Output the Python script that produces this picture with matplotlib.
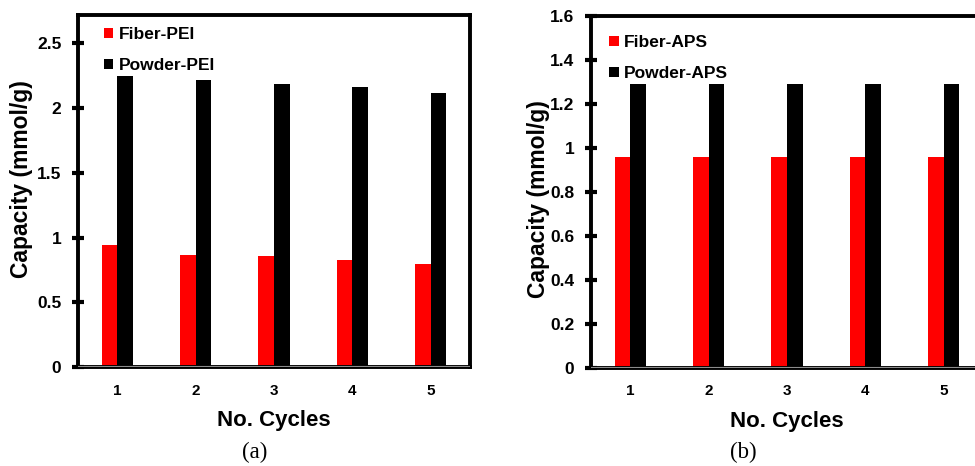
# capacity over adsorption cycles, fiber vs powder (PEI and APS)
import numpy as np
import matplotlib.pyplot as plt

plt.rcParams['font.family'] = 'Liberation Sans'
plt.rcParams['font.weight'] = 'bold'

cycles = [1, 2, 3, 4, 5]
fiber_pei = [0.94, 0.865, 0.86, 0.83, 0.795]
powder_pei = [2.245, 2.22, 2.19, 2.16, 2.115]
fiber_aps = [0.96, 0.96, 0.96, 0.96, 0.96]
powder_aps = [1.29, 1.29, 1.29, 1.29, 1.29]

pei_ticks = [0, 0.5, 1, 1.5, 2, 2.5]
pei_ticklabels = ['0', '0.5', '1', '1.5', '2', '2.5']
aps_ticks = [0, 0.2, 0.4, 0.6, 0.8, 1.0, 1.2, 1.4, 1.6]
aps_ticklabels = ['0', '0.2', '0.4', '0.6', '0.8', '1', '1.2', '1.4', '1.6']

fig = plt.figure(figsize=(9.75, 4.66), dpi=100)
ax1 = fig.add_axes([0.08, 0.2124, 0.402, 0.7554])
ax2 = fig.add_axes([0.6062, 0.211, 0.402, 0.7546])


def draw(ax, fiber, powder, names, ymax, ticks, ticklabels, leg_xy, ylab_xy):
    x = np.array(cycles)
    w = 0.2
    ax.bar(x - w/2, fiber, w, color='#ff0000', label=names[0])
    ax.bar(x + w/2, powder, w, color='black', label=names[1])
    ax.set_xlim(0.5, 5.5)
    ax.set_ylim(0, ymax)
    ax.set_xticks(cycles)
    ax.set_yticks(ticks)
    ax.set_yticklabels(ticklabels)
    ax.tick_params(axis='x', length=0, pad=12, labelsize=11)
    ax.tick_params(axis='y', direction='inout', length=8, width=3,
                   pad=8, labelsize=12.5)
    for s in ['left', 'top', 'right', 'bottom']:
        ax.spines[s].set_linewidth(2.8)
    ax.axhline(0, color='#8c8c8c', lw=1.5, zorder=5)
    ax.set_xlabel('No. Cycles', fontsize=16, fontweight='bold')
    ax.set_ylabel('Capacity (mmol/g)', fontsize=16.5, fontweight='bold')
    ax.xaxis.label.set_va('center')
    ax.yaxis.label.set_va('center')
    ax.xaxis.set_label_coords(0.5, -0.152)
    ax.yaxis.set_label_coords(*ylab_xy)
    ax.legend(loc='upper left', bbox_to_anchor=leg_xy, frameon=False,
              handlelength=0.55, handleheight=0.55, handletextpad=0.3,
              labelspacing=0.9, borderpad=0, borderaxespad=0,
              prop={'size': 12.5, 'weight': 'bold'})


draw(ax1, fiber_pei, powder_pei, ['Fiber-PEI', 'Powder-PEI'], 2.72,
     pei_ticks, pei_ticklabels, (0.066, 0.965), (-0.145, 0.534))
draw(ax2, fiber_aps, powder_aps, ['Fiber-APS', 'Powder-APS'], 1.6,
     aps_ticks, aps_ticklabels, (0.046, 0.945), (-0.135, 0.48))

fig.text(0.2615, 0.028, '(a)', family='Liberation Serif', fontweight='normal',
         fontsize=16.5, ha='center', va='center')
fig.text(0.762, 0.028, '(b)', family='Liberation Serif', fontweight='normal',
         fontsize=16.5, ha='center', va='center')

fig.savefig('out.png', dpi=100)
